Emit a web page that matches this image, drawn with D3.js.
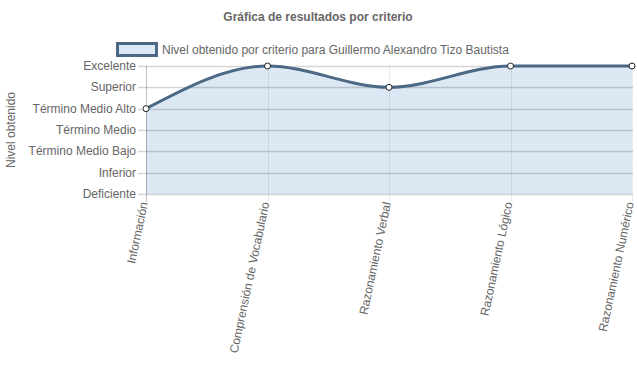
<!DOCTYPE html>
<html>
<head>
<meta charset="utf-8">
<script src="https://cdn.jsdelivr.net/npm/d3@7"></script>
<style>
  body { margin: 0; background: #fff; }
  svg { display: block; }
</style>
</head>
<body>
<svg id="chart"></svg>
<script>
var width = 637,
    height = 389;
var categories = ['Información', 'Comprensión de Vocabulario', 'Razonamiento Verbal', 'Razonamiento Lógico', 'Razonamiento Numérico'];
var levels = ['Deficiente', 'Inferior', 'Término Medio Bajo', 'Término Medio', 'Término Medio Alto', 'Superior', 'Excelente'];
var values = [4, 6, 5, 6, 6];
var seriesName = 'Nivel obtenido por criterio para Guillermo Alexandro Tizo Bautista';

var plotLeft = 146, plotRight = 632, plotTop = 66, plotBottom = 194;
var font = 'Liberation Sans, Arial, sans-serif';
var lineColor = '#4b6984', fillColor = '#dce8f4';

let svg = d3.select('#chart').attr('width', width).attr('height', height);

let x = d3.scalePoint().domain(categories).range([plotLeft, plotRight]);
let y = d3.scaleLinear().domain([0, levels.length - 1]).range([plotBottom, plotTop]);

// title
svg.append('text')
    .attr('x', 318).attr('y', 21)
    .attr('text-anchor', 'middle')
    .attr('font-family', font).attr('font-size', '12px').attr('font-weight', 700)
    .attr('fill', '#666')
    .text('Gráfica de resultados por criterio');

// legend
svg.append('rect')
    .attr('x', 117.5).attr('y', 43.5).attr('width', 39).attr('height', 12)
    .attr('fill', fillColor).attr('stroke', lineColor).attr('stroke-width', 3);
svg.append('text')
    .attr('x', 162).attr('y', 54)
    .attr('font-family', font).attr('font-size', '12px').attr('fill', '#666')
    .text(seriesName);

// area + line
let area = d3.area()
    .x(function(d, i) { return x(categories[i]); })
    .y0(y(0))
    .y1(function(d) { return y(d); })
    .curve(d3.curveMonotoneX);
let line = d3.line()
    .x(function(d, i) { return x(categories[i]); })
    .y(function(d) { return y(d); })
    .curve(d3.curveMonotoneX);

svg.append('path').attr('d', area(values)).attr('fill', fillColor);

// grid
let grid = svg.append('g');
grid.selectAll('.hg').data(levels).enter().append('line')
    .attr('x1', plotLeft - 8).attr('x2', plotRight + 1)
    .attr('y1', function(d, i) { return Math.round(y(i)) + 0.5; })
    .attr('y2', function(d, i) { return Math.round(y(i)) + 0.5; })
    .attr('stroke', 'rgba(0,0,0,0.16)').attr('stroke-width', 1.5);
grid.selectAll('.vg').data(categories).enter().append('line')
    .attr('x1', function(d) { return Math.round(x(d)) + 0.5; })
    .attr('x2', function(d) { return Math.round(x(d)) + 0.5; })
    .attr('y1', plotTop).attr('y2', plotBottom + 8)
    .attr('stroke', function(d, i) { return i === 0 ? 'rgba(0,0,0,0.25)' : 'rgba(0,0,0,0.08)'; })
    .attr('stroke-width', 1);

// y labels
svg.selectAll('.yl').data(levels).enter().append('text')
    .attr('x', 136)
    .attr('y', function(d, i) { return y(i) + 4; })
    .attr('text-anchor', 'end')
    .attr('font-family', font).attr('font-size', '12px').attr('fill', '#666')
    .text(function(d) { return d; });

svg.append('text')
    .attr('transform', 'translate(15,' + (plotTop + plotBottom) / 2 + ') rotate(-90)')
    .attr('text-anchor', 'middle')
    .attr('font-family', font).attr('font-size', '12px').attr('fill', '#666')
    .text('Nivel obtenido');

// x labels
svg.selectAll('.xl').data(categories).enter().append('text')
    .attr('transform', function(d) { return 'translate(' + (x(d) + 2) + ',' + (plotBottom + 9) + ') rotate(-78)'; })
    .attr('text-anchor', 'end')
    .attr('font-family', font).attr('font-size', '12px').attr('fill', '#666')
    .text(function(d) { return d; });

svg.append('path').attr('d', line(values))
    .attr('fill', 'none').attr('stroke', lineColor).attr('stroke-width', 3);

svg.selectAll('.pt').data(values).enter().append('circle')
    .attr('cx', function(d, i) { return x(categories[i]); })
    .attr('cy', function(d) { return y(d); })
    .attr('r', 3)
    .attr('fill', '#fff').attr('stroke', '#222').attr('stroke-width', 1);
</script>
</body>
</html>
